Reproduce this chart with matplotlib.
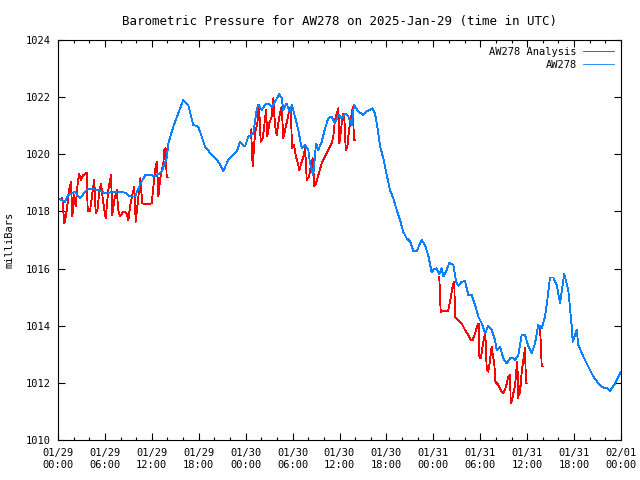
import numpy as np
import matplotlib
matplotlib.use("Agg")
import matplotlib.pyplot as plt
from matplotlib.ticker import MultipleLocator

nan = np.nan

# hours since 2025-01-29 00:00 UTC
blue_hours = [0.0, 0.9, 1.32, 2.17, 2.81, 3.67, 4.09, 5.15, 6.01, 7.29, 8.15, 8.79, 9.21, 9.85,
              10.49, 11.13, 11.98, 12.41, 13.26, 13.9, 14.11, 14.75, 15.38, 16.02, 16.66, 17.3,
              17.94, 18.8, 19.66, 20.5, 21.14, 21.78, 22.21, 22.85, 23.28, 23.91, 24.34, 24.98,
              25.41, 25.62, 26.05, 26.47, 26.89, 27.33, 27.75, 28.3, 28.61, 28.81, 29.25, 29.67,
              29.89, 30.31, 30.73, 31.17, 31.59, 32.01, 32.23, 32.65, 33.0, 33.29, 33.72, 34.15,
              34.57, 35.0, 35.42, 35.85, 36.28, 36.7, 37.13, 37.56, 37.85, 38.4, 39.04, 39.48,
              40.25, 40.55, 40.76, 41.0, 41.2, 41.6, 42.04, 42.46, 42.88, 43.32, 43.74, 44.16,
              44.59, 45.02, 45.44, 45.87, 46.3, 46.51, 46.93, 47.36, 47.79, 48.09, 48.43, 48.76,
              49.07, 49.27, 49.71, 50.04, 50.55, 50.9, 51.19, 51.63, 52.05, 52.47, 52.91, 53.33,
              53.75, 54.19, 54.61, 55.03, 55.46, 55.89, 56.1, 56.53, 56.95, 57.38, 57.81, 58.2,
              58.45, 58.87, 59.3, 59.72, 60.15, 60.58, 61.0, 61.42, 61.86, 62.28, 62.58, 62.92,
              63.34, 63.78, 64.2, 64.75, 65.26, 65.7, 65.82, 66.34, 66.54, 67.18, 67.82, 68.46,
              69.1, 69.74, 70.17, 70.59, 71.23, 71.96]
blue_press = [1018.46, 1018.34, 1018.57, 1018.69, 1018.46, 1018.75, 1018.8, 1018.75, 1018.63,
              1018.69, 1018.69, 1018.63, 1018.52, 1018.52, 1018.93, 1019.27, 1019.27, 1019.22,
              1019.39, 1019.86, 1020.38, 1020.97, 1021.43, 1021.9, 1021.73, 1021.03, 1020.97,
              1020.27, 1019.98, 1019.74, 1019.42, 1019.8, 1019.94, 1020.09, 1020.44, 1020.27,
              1020.62, 1020.73, 1021.55, 1021.73, 1021.55, 1021.73, 1021.78, 1021.66, 1021.84,
              1022.11, 1021.96, 1021.55, 1021.78, 1021.43, 1021.73, 1021.32, 1020.85, 1020.21,
              1020.33, 1020.15, 1019.68, 1019.27, 1020.38, 1020.15, 1020.44, 1020.91, 1021.26,
              1021.32, 1021.08, 1021.38, 1021.26, 1021.43, 1021.32, 1021.03, 1021.73, 1021.5,
              1021.38, 1021.5, 1021.61, 1021.4, 1021.1, 1020.67, 1020.27, 1019.86, 1019.27,
              1018.75, 1018.46, 1018.05, 1017.7, 1017.29, 1017.06, 1016.95, 1016.62, 1016.6,
              1016.88, 1017.0, 1016.83, 1016.45, 1015.86, 1015.98, 1016.01, 1015.8, 1016.01,
              1015.72, 1015.95, 1016.2, 1016.13, 1015.56, 1015.4, 1015.54, 1015.56, 1015.08,
              1015.08, 1014.73, 1014.32, 1014.08, 1013.73, 1013.99, 1013.85, 1013.5, 1013.15,
              1013.27, 1012.86, 1012.68, 1012.86, 1012.86, 1012.8, 1012.98, 1013.68, 1013.68,
              1013.27, 1013.04, 1013.38, 1014.03, 1013.91, 1014.32, 1014.9, 1015.69, 1015.69,
              1015.42, 1014.8, 1015.81, 1015.25, 1013.97, 1013.44, 1013.85, 1013.33, 1012.92,
              1012.57, 1012.22, 1011.98, 1011.83, 1011.83, 1011.71, 1011.98, 1012.39]

# analysis series, NaN marks a gap in the record
red_hours = [0.55, 0.81, 1.11, 1.41, 1.66, 1.83, 2.08, 2.26, 2.52, 2.69, 2.94, 3.24, 3.67, 3.8,
             4.09, 4.39, 4.64, 4.82, 5.08, 5.24, 5.5, 5.67, 5.92, 6.1, 6.43, 6.78, 6.94, 7.2,
             7.51, 7.71, 7.93, 8.35, 8.79, 9.0, 9.21, 9.5, 9.76, 9.94, 10.19, 10.36, 10.53,
             10.78, 11.34, 11.98, 12.24, 12.49, 12.66, 12.83, 13.08, 13.26, 13.47, 13.59, 13.77,
             13.9, 14.03, nan,
             24.68, 24.9, 25.19, 25.49, 25.71, 25.92, 26.18, 26.38, 26.6, 26.77, 27.02, 27.33,
             27.53, 27.75, 27.97, 28.17, 28.39, 28.61, 28.81, 29.03, 29.32, 29.58, 29.76, 29.93,
             30.18, 30.44, 30.73, 30.86, 31.17, 31.46, 31.59, 31.81, 32.1, 32.36, 32.57, 32.78,
             33.0, 33.29, 33.72, 34.15, 34.57, 35.0, 35.21, 35.42, 35.64, 35.85, 35.98, 36.19,
             36.41, 36.59, 36.8, 37.0, 37.22, 37.43, 37.56, 37.69, 37.85, 37.98, nan,
             48.76, 48.85, 48.94, 49.91, 50.13, 50.35, 50.55, 50.68, 50.77, 51.19, 51.63, 52.05,
             52.47, 52.78, 53.03, 53.33, 53.62, 53.8, 53.88, 54.06, 54.31, 54.48, 54.65, 54.83,
             55.03, 55.25, 55.46, 55.59, 55.8, 55.93, 56.31, 56.74, 56.95, 57.3, 57.59, 57.81,
             57.9, 58.06, 58.23, 58.45, 58.66, 58.74, 58.87, 59.0, 59.09, 59.3, 59.51, 59.72,
             59.85, 60.02, nan,
             61.64, 61.77, 61.86, 61.99]
red_press = [1018.46, 1017.58, 1018.0, 1018.75, 1019.04, 1017.82, 1018.57, 1018.17, 1018.98,
             1019.33, 1019.1, 1019.27, 1019.36, 1018.0, 1018.0, 1018.63, 1019.1, 1017.93, 1018.1,
             1018.63, 1018.98, 1018.57, 1018.05, 1017.76, 1018.75, 1019.27, 1017.88, 1018.4,
             1018.75, 1018.05, 1017.82, 1018.0, 1017.93, 1017.7, 1018.17, 1018.57, 1018.87,
             1017.64, 1018.28, 1018.75, 1019.16, 1018.28, 1018.26, 1018.28, 1018.98, 1019.57,
             1019.74, 1018.52, 1019.16, 1019.45, 1019.68, 1020.15, 1020.21, 1019.19, 1019.19, nan,
             1020.87, 1019.57, 1020.73, 1021.08, 1021.73, 1020.44, 1020.56, 1021.0, 1021.55,
             1020.62, 1021.08, 1021.32, 1021.96, 1021.03, 1020.68, 1021.08, 1021.43, 1021.66,
             1020.56, 1020.85, 1021.2, 1021.55, 1021.66, 1020.21, 1020.33, 1019.92, 1019.63,
             1019.45, 1019.74, 1019.98, 1020.27, 1019.1, 1019.22, 1019.63, 1019.86, 1018.89,
             1018.98, 1019.27, 1019.68, 1019.92, 1020.15, 1020.38, 1020.62, 1021.2, 1021.43,
             1021.61, 1020.38, 1020.85, 1021.38, 1021.43, 1020.15, 1020.27, 1020.85, 1021.26,
             1021.38, 1021.66, 1020.5, 1020.5, nan,
             1015.72, 1015.13, 1014.49, 1014.53, 1014.84, 1015.19, 1015.48, 1015.54, 1014.32,
             1014.2, 1014.08, 1013.85, 1013.68, 1013.5, 1013.5, 1013.73, 1013.99, 1014.08,
             1012.92, 1012.86, 1013.27, 1013.56, 1013.73, 1012.45, 1012.39, 1012.8, 1013.27,
             1013.0, 1012.68, 1012.04, 1011.93, 1011.69, 1011.63, 1011.87, 1012.22, 1012.27,
             1011.28, 1011.4, 1011.63, 1011.9, 1012.57, 1012.74, 1011.46, 1011.9, 1011.63,
             1012.39, 1012.8, 1013.21, 1011.98, 1011.98, nan,
             1013.97, 1013.21, 1012.57, 1012.57]

x_tick_hours = [0, 6, 12, 18, 24, 30, 36, 42, 48, 54, 60, 66, 72]
x_tick_labels = ["01/29\n00:00", "01/29\n06:00", "01/29\n12:00", "01/29\n18:00",
                 "01/30\n00:00", "01/30\n06:00", "01/30\n12:00", "01/30\n18:00",
                 "01/31\n00:00", "01/31\n06:00", "01/31\n12:00", "01/31\n18:00",
                 "02/01\n00:00"]
y_ticks = [1010, 1012, 1014, 1016, 1018, 1020, 1022, 1024]

plt.rcParams['font.family'] = ['DejaVu Sans Mono']
plt.rcParams['font.size'] = 7.5

fig = plt.figure(figsize=(6.4, 4.8), dpi=100)
ax = fig.add_axes([58/640, 40/480, (621-58)/640, 400/480])

ax.plot(red_hours, red_press, color='#ff0000', lw=0.6, antialiased=False, label='AW278 Analysis')
ax.plot(blue_hours, blue_press, color='#0a80ff', lw=0.6, antialiased=False, label='AW278')

ax.set_xlim(0, 72)
ax.set_ylim(1010, 1024)
ax.set_xticks(x_tick_hours)
ax.set_xticklabels(x_tick_labels, linespacing=1.25)
ax.xaxis.set_minor_locator(MultipleLocator(2))
ax.set_yticks(y_ticks)
ax.set_yticklabels([str(v) for v in y_ticks])
ax.tick_params(which='major', direction='in', length=5, width=0.8, top=True, right=True, pad=5)
ax.tick_params(which='minor', direction='in', length=2.5, width=0.8, top=True, right=True)
ax.tick_params(axis='x', which='major', pad=6)
for s in ax.spines.values():
    s.set_linewidth(0.8)

ax.set_ylabel('milliBars', labelpad=8)
ax.set_title('Barometric Pressure for AW278 on 2025-Jan-29 (time in UTC)', pad=11)

leg = ax.legend(loc='upper right', frameon=False, markerfirst=False, handlelength=3.0,
                borderaxespad=0.25, handletextpad=0.6, labelspacing=0.3)

fig.savefig('out.png', dpi=100)
